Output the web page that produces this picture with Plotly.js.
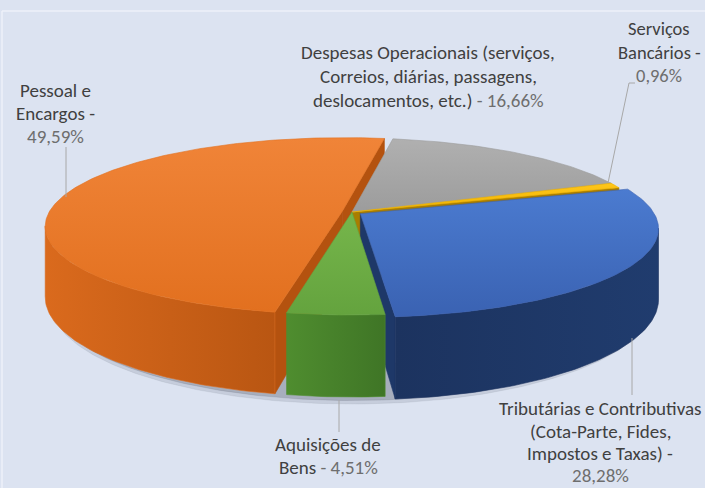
<!DOCTYPE html>
<html>
<head>
<meta charset="utf-8">
<script src="https://cdn.plot.ly/plotly-3.0.1.min.js"></script>
<style>html,body{margin:0;padding:0;background:#dce3f1;}</style>
</head>
<body>
<div id="chart" style="width:705px;height:488px;"></div>
<script>
// ---------- data ----------
const categories = [
  "Pessoal e Encargos",
  "Despesas Operacionais (serviços, Correios, diárias, passagens, deslocamentos, etc.)",
  "Serviços Bancários",
  "Tributárias e Contributivas (Cota-Parte, Fides, Impostos e Taxas)",
  "Aquisições de Bens"
];
const values = [49.59, 16.66, 0.96, 28.28, 4.51];
// label text broken into lines (name part only)
const labelLines = [
  ["Pessoal e", "Encargos"],
  ["Despesas Operacionais (serviços,", "Correios, diárias, passagens,", "deslocamentos, etc.)"],
  ["Serviços", "Bancários"],
  ["Tributárias e Contributivas", "(Cota-Parte, Fides,", "Impostos e Taxas)"],
  ["Aquisições de", "Bens"]
];

// ---------- style / layout ----------
const pctOwnLine = [true, false, true, true, false];
const labelX = [55, 428, 659, 600, 328];
const labelSize = [19, 19, 18.5, 19, 19];
const labelY = [[90, 113, 136], [52, 76, 100], [28, 52, 75], [408, 431, 453, 475], [444, 467]];
const leaders = [
  [[66, 147], [66, 197]],
  null,
  [[635, 83], [629, 83], [608, 183]],
  [[632, 338], [632, 395]],
  [[339, 400], [339, 432]]
];
const explode = [1, 0, 0, 1, 0];
const topColors = [["#e2701f", "#f08438"], ["#9c9c9c", "#b0b0b0"], ["#f0b400", "#ffc61a"], ["#3a62b2", "#4b7bd0"], ["#64a33e", "#76b64b"]];
const wallColors = [["#da6a1d", "#b95612"], ["#8a8a8a", "#777"], ["#c99a00", "#b08600"], ["#1c335f", "#203c6e"], ["#4f8d2f", "#3f7526"]];
const faceColors = ["#b4520f", "#7f7f7f", "#a97d00", "#1e3868", "#4d7f2e"];

const cx = 352, cy = 212, R = 293, kR = 86.1, D = 6.1, H = 68.6, EXP = 0.034;
const START = 190.8;
const SIL_L = Math.acos(-1 / D) * 180 / Math.PI, SIL_R = 360 - SIL_L;

function project(X, Z, dep) {
  const s = D / (D - Z);
  return [cx + R * X * s, cy + (kR * Z + H * dep) * s];
}
function rim(theta, off, dep) {
  const t = theta * Math.PI / 180;
  return project(Math.sin(t) + off[0], -Math.cos(t) + off[1], dep);
}
function apex(off, dep) { return project(off[0], off[1], dep); }
function arc(a0, a1, off, dep) {
  const pts = [];
  const n = Math.max(2, Math.ceil(Math.abs(a1 - a0)));
  for (let i = 0; i <= n; i++) pts.push(rim(a0 + (a1 - a0) * i / n, off, dep));
  return pts;
}
function poly(pts, c, grad, gtype) {
  const tr = {
    type: "scatter", mode: "lines", x: pts.map(p => p[0]).concat([pts[0][0]]),
    y: pts.map(p => p[1]).concat([pts[0][1]]), fill: "toself",
    line: { width: 0.6, color: c }, fillcolor: c, hoverinfo: "skip", showlegend: false
  };
  if (grad) tr.fillgradient = { type: gtype, colorscale: [[0, grad[0]], [1, grad[1]]] };
  return tr;
}

const total = values.reduce((a, b) => a + b, 0);
const slices = [];
let a = START;
values.forEach((v, i) => {
  const span = v / total * 360;
  const mid = a + span / 2, mr = mid * Math.PI / 180;
  const off = [EXP * explode[i] * Math.sin(mr), -EXP * explode[i] * Math.cos(mr)];
  slices.push({ i, a0: a, a1: a + span, off });
  a += span;
});

const shadow = [], faces = [], walls = [], tops = [];
// soft shadow under the front rim
[[7, "rgba(90,95,110,0.16)"], [3.5, "rgba(70,75,90,0.24)"]].forEach(([d, c]) => {
  const top = arc(SIL_L - 4, SIL_R + 4, [0, 0], 0.6);
  const bot = arc(SIL_R + 4, SIL_L - 4, [0, 0], 1).map(p => [p[0] + (p[0] - cx) * 0.012, p[1] + d]);
  shadow.push({ key: 0, tr: poly(top.concat(bot), c) });
});

slices.forEach(s => {
  const { i, a0, a1, off } = s;
  const E = [-off[0], D - off[1]];
  // cut faces
  [[a0, -1], [a1, 1]].forEach(([ang, sg]) => {
    const t = ang * Math.PI / 180;
    const n = [sg * Math.cos(t), sg * Math.sin(t)];
    if (n[0] * E[0] + n[1] * E[1] > 0) {
      const pts = [apex(off, 0), rim(ang, off, 0), rim(ang, off, 1), apex(off, 1)];
      faces.push({ key: -Math.cos(t) * 0.5 + off[1], tr: poly(pts, faceColors[i]) });
    }
  });
  // outer wall (front part)
  for (const shift of [0, 360, -360]) {
    const b0 = Math.max(a0 + shift, SIL_L), b1 = Math.min(a1 + shift, SIL_R);
    if (b1 > b0) {
      const pts = arc(b0 - shift, b1 - shift, off, 0).concat(arc(b1 - shift, b0 - shift, off, 1));
      const m = (b0 + b1) / 2 * Math.PI / 180;
      walls.push({ key: -Math.cos(m), tr: poly(pts, wallColors[i][0], wallColors[i], "horizontal") });
    }
  }
  // top
  const tp = [apex(off, 0)].concat(arc(a0, a1, off, 0));
  tops.push({ key: 0, tr: poly(tp, topColors[i][0], topColors[i], "vertical") });
});

faces.sort((p, q) => p.key - q.key);
walls.sort((p, q) => p.key - q.key);
const data = [].concat(shadow, faces, walls, tops).map(o => o.tr);

// ---------- labels ----------
const NAME = "#404040", PCT = "#6e6e6e";
const annotations = [];
const fmt = v => v.toFixed(2).replace(".", ",") + "%";
labelLines.forEach((lines, i) => {
  const texts = lines.slice();
  const last = texts.length - 1;
  if (pctOwnLine[i]) {
    texts[last] = texts[last] + " -";
    texts.push('<span style="color:' + PCT + '">' + fmt(values[i]) + "</span>");
  } else {
    texts[last] = texts[last] + '<span style="color:' + PCT + '"> - ' + fmt(values[i]) + "</span>";
  }
  texts.forEach((t, j) => annotations.push({
    x: labelX[i], y: labelY[i][j], xref: "x", yref: "y", text: t, showarrow: false,
    xanchor: "center", yanchor: "middle",
    font: { family: "Carlito, Calibri, Lato, sans-serif", size: labelSize[i], color: NAME }
  }));
});
const shapes = [
  { type: "line", xref: "x", yref: "y", x0: 2, x1: 705, y0: 11, y1: 11, line: { color: "#eef1f8", width: 1.5 }, layer: "below" },
  { type: "line", xref: "x", yref: "y", x0: 2, x1: 2, y0: 11, y1: 488, line: { color: "#eef1f8", width: 1.5 }, layer: "below" }
];
leaders.forEach(L => {
  if (!L) return;
  shapes.push({ type: "path", xref: "x", yref: "y", path: "M" + L.map(p => p[0] + "," + p[1]).join("L"), line: { color: "#a8a8a8", width: 1 } });
});

const layout = {
  width: 705, height: 488, margin: { l: 0, r: 0, t: 0, b: 0 },
  paper_bgcolor: "#dce3f1", plot_bgcolor: "#dce3f1",
  xaxis: { range: [0, 705], visible: false, fixedrange: true },
  yaxis: { range: [488, 0], visible: false, fixedrange: true },
  showlegend: false, annotations, shapes, hovermode: false
};
Plotly.newPlot("chart", data, layout, { displayModeBar: false, staticPlot: true });
</script>
</body>
</html>
